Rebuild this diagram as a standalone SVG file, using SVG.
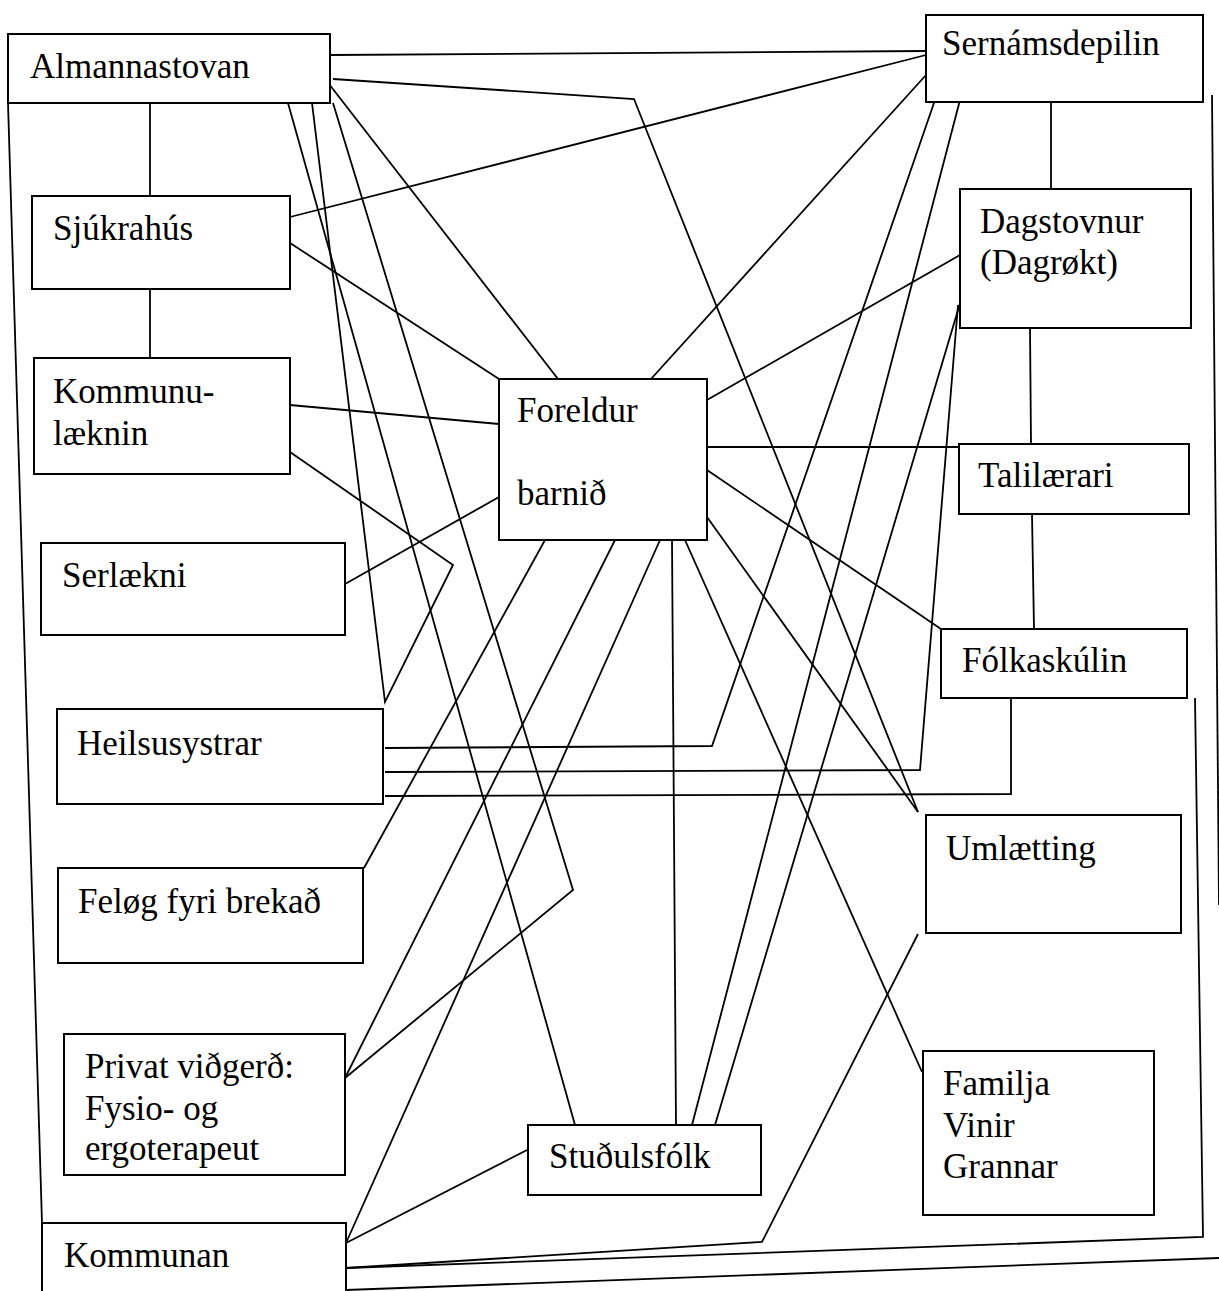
<svg xmlns="http://www.w3.org/2000/svg" width="1219" height="1291" viewBox="0 0 1219 1291">
<style>
  .box { fill: #fff; stroke: #000; stroke-width: 2; }
  .lbl { font-family: "Liberation Serif", "Times New Roman", serif; font-size: 35px; fill: #000; }
  .c line, .c polyline { stroke: #000; stroke-width: 1.8; fill: none; }
</style>
<rect width="1219" height="1291" fill="#fff"/>
<g id="connectors" class="c">
  <line x1="330" y1="55" x2="926" y2="51"/>
  <polyline points="333,79 634,99 918,812"/>
  <line x1="329" y1="84" x2="558" y2="379"/>
  <line x1="150" y1="103" x2="150" y2="196"/>
  <line x1="150" y1="289" x2="150" y2="358"/>
  <line x1="8" y1="103" x2="42" y2="1223"/>
  <polyline points="312,103 385,702 453,565 290,452"/>
  <line x1="288" y1="103" x2="575" y2="1125"/>
  <polyline points="333,103 573,890 345,1078"/>
  <line x1="290" y1="217" x2="926" y2="55"/>
  <line x1="290" y1="243" x2="499" y2="379"/>
  <line x1="290" y1="405" x2="499" y2="424"/>
  <line x1="338" y1="588" x2="499" y2="497"/>
  <line x1="651" y1="379" x2="926" y2="75"/>
  <line x1="707" y1="400" x2="960" y2="255"/>
  <line x1="707" y1="447" x2="959" y2="447"/>
  <line x1="707" y1="470" x2="941" y2="629"/>
  <line x1="707" y1="517" x2="918" y2="812"/>
  <line x1="685" y1="540" x2="922" y2="1072"/>
  <line x1="672" y1="540" x2="676" y2="1125"/>
  <line x1="660" y1="540" x2="346" y2="1243"/>
  <line x1="615" y1="540" x2="345" y2="1078"/>
  <line x1="545" y1="540" x2="364" y2="868"/>
  <polyline points="385,748 712,746 935,100"/>
  <polyline points="385,772 920,770 958,305"/>
  <polyline points="385,796 1011,794 1011,698"/>
  <line x1="960" y1="100" x2="692" y2="1125"/>
  <line x1="961" y1="300" x2="715" y2="1125"/>
  <line x1="1051" y1="102" x2="1051" y2="189"/>
  <line x1="1030" y1="328" x2="1031" y2="444"/>
  <line x1="1032" y1="514" x2="1034" y2="629"/>
  <polyline points="918,934 762,1242 346,1268"/>
  <polyline points="1195,698 1203,1237 346,1268"/>
  <line x1="527" y1="1150" x2="346" y2="1243"/>
  <line x1="1212" y1="95" x2="1219" y2="905"/>
  <line x1="346" y1="1290" x2="1219" y2="1258"/>
</g>
<g id="almannastovan"><rect class="box" x="8" y="34" width="322" height="69"/><text class="lbl" x="30" y="78">Almannastovan</text></g>
<g id="sernamsdepilin"><rect class="box" x="926" y="15" width="277" height="87"/><text class="lbl" x="942" y="55">Sernámsdepilin</text></g>
<g id="sjukrahus"><rect class="box" x="32" y="196" width="258" height="93"/><text class="lbl" x="53" y="240">Sjúkrahús</text></g>
<g id="dagstovnur"><rect class="box" x="960" y="189" width="231" height="139"/><text class="lbl" x="980" y="233">Dagstovnur</text><text class="lbl" x="980" y="274">(Dagrøkt)</text></g>
<g id="kommunulaeknin"><rect class="box" x="34" y="358" width="256" height="116"/><text class="lbl" x="53" y="403">Kommunu-</text><text class="lbl" x="53" y="445">læknin</text></g>
<g id="foreldur"><rect class="box" x="499" y="379" width="208" height="161"/><text class="lbl" x="517" y="422">Foreldur</text><text class="lbl" x="517" y="505">barnið</text></g>
<g id="talilaerari"><rect class="box" x="959" y="444" width="230" height="70"/><text class="lbl" x="978" y="487">Talilærari</text></g>
<g id="serlaekni"><rect class="box" x="41" y="543" width="304" height="92"/><text class="lbl" x="62" y="587">Serlækni</text></g>
<g id="folkaskulin"><rect class="box" x="941" y="629" width="246" height="69"/><text class="lbl" x="962" y="672">Fólkaskúlin</text></g>
<g id="heilsusystrar"><rect class="box" x="57" y="709" width="326" height="95"/><text class="lbl" x="77" y="755">Heilsusystrar</text></g>
<g id="umlaetting"><rect class="box" x="926" y="815" width="255" height="118"/><text class="lbl" x="946" y="860">Umlætting</text></g>
<g id="felog"><rect class="box" x="58" y="868" width="305" height="95"/><text class="lbl" x="78" y="913">Feløg fyri brekað</text></g>
<g id="privat"><rect class="box" x="64" y="1034" width="281" height="141"/><text class="lbl" x="85" y="1078">Privat viðgerð:</text><text class="lbl" x="85" y="1120">Fysio- og</text><text class="lbl" x="85" y="1160">ergoterapeut</text></g>
<g id="studulsfolk"><rect class="box" x="528" y="1125" width="233" height="70"/><text class="lbl" x="549" y="1168">Stuðulsfólk</text></g>
<g id="familja"><rect class="box" x="923" y="1051" width="231" height="164"/><text class="lbl" x="943" y="1095">Familja</text><text class="lbl" x="943" y="1137">Vinir</text><text class="lbl" x="943" y="1178">Grannar</text></g>
<g id="kommunan"><rect class="box" x="42" y="1223" width="304" height="80"/><text class="lbl" x="64" y="1267">Kommunan</text></g>
</svg>
